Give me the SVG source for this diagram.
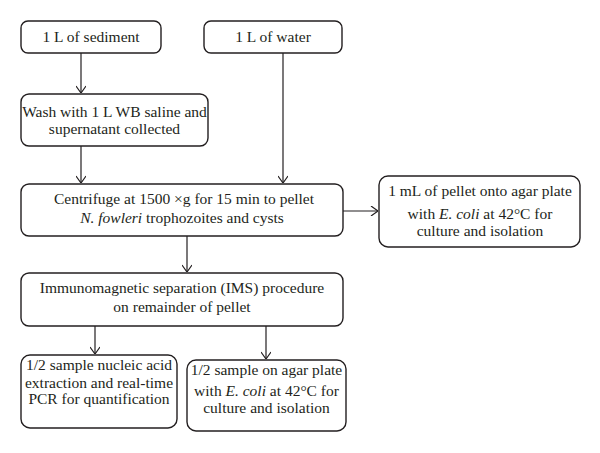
<svg xmlns="http://www.w3.org/2000/svg" width="600" height="453" viewBox="0 0 600 453">
<style>
.box{fill:#fff;stroke:#231f20;stroke-width:1.4}
.t{font-family:"Liberation Serif","Times New Roman",serif;font-size:15.5px;fill:#231f20;text-anchor:middle}
.i{font-style:italic}
.c{fill:none;stroke:#231f20;stroke-width:1.2}
</style>
<defs>
<marker id="ah" viewBox="0 0 10 10" refX="10" refY="5" markerWidth="10" markerHeight="10" markerUnits="userSpaceOnUse" orient="auto">
<polyline points="3,0 10,5 3,10" fill="none" stroke="#231f20" stroke-width="1.2"/>
</marker>
</defs>
<rect width="600" height="453" fill="#fff"/>
<g id="connectors">
<line class="c" x1="81" y1="53" x2="81" y2="93" marker-end="url(#ah)"/>
<line class="c" x1="81" y1="146" x2="81" y2="183" marker-end="url(#ah)"/>
<line class="c" x1="283" y1="53" x2="283" y2="183" marker-end="url(#ah)"/>
<line class="c" x1="343" y1="211" x2="378" y2="211" marker-end="url(#ah)"/>
<line class="c" x1="187" y1="236" x2="187" y2="272" marker-end="url(#ah)"/>
<line class="c" x1="95" y1="326" x2="95" y2="354" marker-end="url(#ah)"/>
<line class="c" x1="266" y1="326" x2="266" y2="359" marker-end="url(#ah)"/>
</g>
<g id="sediment">
<rect class="box" x="21" y="21" width="140" height="32" rx="7"/>
<text class="t" x="91" y="42">1 L of sediment</text>
</g>
<g id="water">
<rect class="box" x="204" y="21" width="138" height="32" rx="7"/>
<text class="t" x="273" y="42">1 L of water</text>
</g>
<g id="wash">
<rect class="box" x="21" y="94" width="187" height="52" rx="8"/>
<text class="t" x="114.5" y="117">Wash with 1 L WB saline and</text>
<text class="t" x="114.5" y="134">supernatant collected</text>
</g>
<g id="centrifuge">
<rect class="box" x="21" y="184" width="322" height="52" rx="8"/>
<text class="t" x="184" y="204">Centrifuge at 1500 ×g for 15 min to pellet</text>
<text class="t" x="182" y="223"><tspan class="i">N. fowleri</tspan> trophozoites and cysts</text>
</g>
<g id="culture1">
<rect class="box" x="379" y="176" width="201" height="71" rx="9"/>
<text class="t" x="480" y="196">1 mL of pellet onto agar plate</text>
<text class="t" x="480" y="219">with <tspan class="i">E. coli</tspan> at 42°C for</text>
<text class="t" x="480" y="236">culture and isolation</text>
</g>
<g id="ims">
<rect class="box" x="21" y="273" width="322" height="53" rx="8"/>
<text class="t" x="182" y="293">Immunomagnetic separation (IMS) procedure</text>
<text class="t" x="182" y="312">on remainder of pellet</text>
</g>
<g id="pcr">
<rect class="box" x="21" y="355" width="156" height="73" rx="9"/>
<text class="t" x="99" y="370">1/2 sample nucleic acid</text>
<text class="t" x="99" y="388">extraction and real-time</text>
<text class="t" x="99" y="404">PCR for quantification</text>
</g>
<g id="culture2">
<rect class="box" x="187" y="360" width="159" height="71" rx="9"/>
<text class="t" x="266.5" y="375">1/2 sample on agar plate</text>
<text class="t" x="266.5" y="396">with <tspan class="i">E. coli</tspan> at 42°C for</text>
<text class="t" x="266.5" y="413">culture and isolation</text>
</g>
</svg>
